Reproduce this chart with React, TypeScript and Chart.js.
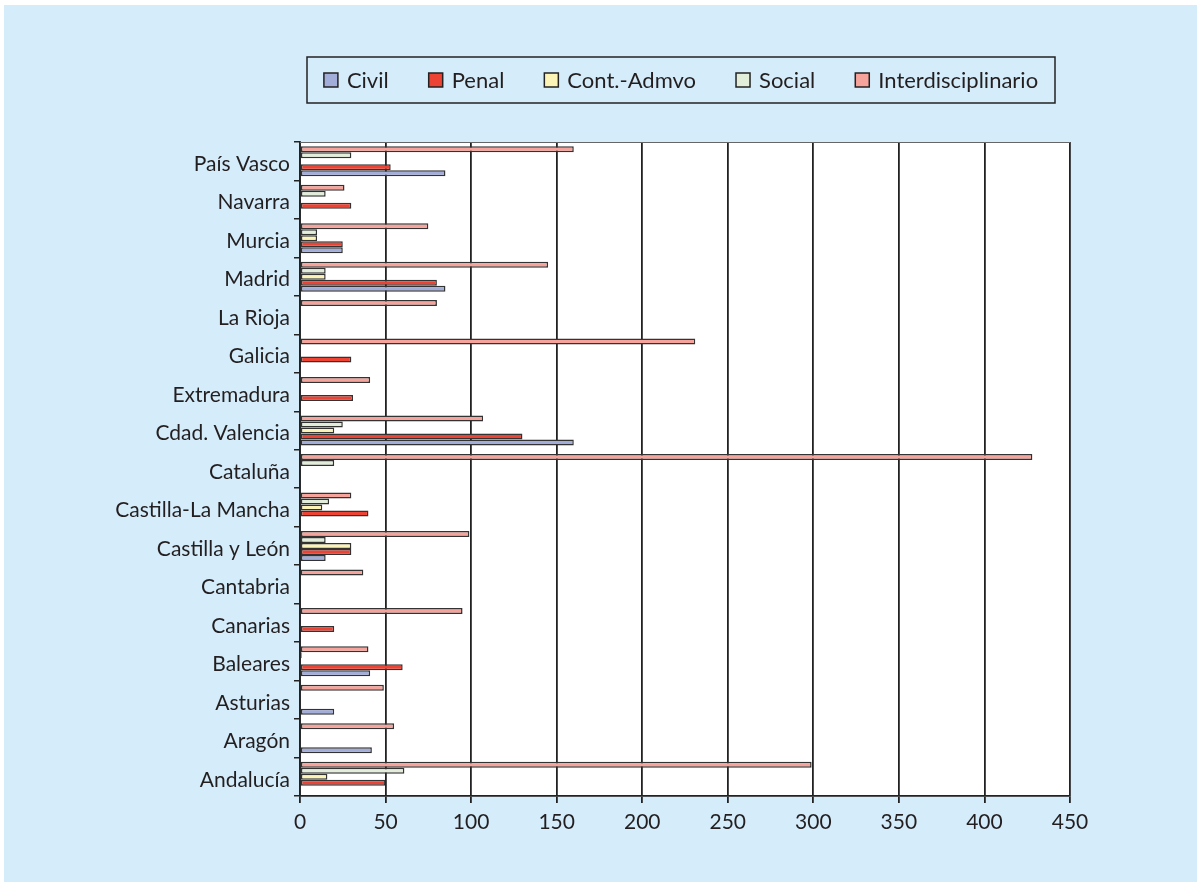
import React, { useEffect, useRef } from "react";
import { Chart, registerables } from "chart.js";

Chart.register(...registerables);

// Categories, top to bottom as drawn
const regions = [
  "País Vasco",
  "Navarra",
  "Murcia",
  "Madrid",
  "La Rioja",
  "Galicia",
  "Extremadura",
  "Cdad. Valencia",
  "Cataluña",
  "Castilla-La Mancha",
  "Castilla y León",
  "Cantabria",
  "Canarias",
  "Baleares",
  "Asturias",
  "Aragón",
  "Andalucía",
];

const civil = [85, null, 25, 85, null, null, null, 160, null, null, 15, null, null, 41, 20, 42, null];
const penal = [53, 30, 25, 80, null, 30, 31, 130, null, 40, 30, null, 20, 60, null, null, 50];
const contAdmvo = [null, null, 10, 15, null, null, null, 20, null, 13, 30, null, null, null, null, null, 16];
const social = [30, 15, 10, 15, null, null, null, 25, 20, 17, 15, null, null, 1, null, null, 61];
const interdisciplinario = [160, 26, 75, 145, 80, 231, 41, 107, 428, 30, 99, 37, 95, 40, 49, 55, 299];

const seriesNames = ["Civil", "Penal", "Cont.-Admvo", "Social", "Interdisciplinario"];
const seriesColors = ["#A3ADDA", "#EC4334", "#FCF4B6", "#E2EDDA", "#F5A39B"];
const xTicks = [0, 50, 100, 150, 200, 250, 300, 350, 400, 450];

const FONT = "Lato, 'Open Sans', sans-serif";
const BG = "#D5ECFA";
const DARK = "#222222";
const TEXT = "#231F20";

const bgPlugin = {
  id: "bgPlugin",
  beforeDraw(chart: any) {
    const { ctx, width, height, chartArea } = chart;
    ctx.save();
    ctx.fillStyle = "#ffffff";
    ctx.fillRect(0, 0, width, height);
    ctx.fillStyle = BG;
    ctx.fillRect(4, 5, width - 4, height - 5);
    ctx.fillStyle = "#ffffff";
    ctx.fillRect(chartArea.left, chartArea.top, chartArea.right - chartArea.left, chartArea.bottom - chartArea.top);
    ctx.restore();
  },
  afterDraw(chart: any) {
    const { ctx, chartArea } = chart;
    ctx.save();
    // top border of plot
    ctx.strokeStyle = "#666666";
    ctx.lineWidth = 1;
    ctx.beginPath();
    ctx.moveTo(chartArea.left, chartArea.top + 0.5);
    ctx.lineTo(chartArea.right, chartArea.top + 0.5);
    ctx.stroke();

    // legend
    const boxL = 307, boxR = 1055, boxT = 57, boxB = 103;
    ctx.strokeStyle = DARK;
    ctx.lineWidth = 1.5;
    ctx.strokeRect(boxL, boxT, boxR - boxL, boxB - boxT);
    ctx.font = `22px ${FONT}`;
    const sw = 14, gapText = 9, gapItem = 40;
    const widths = seriesNames.map((n) => sw + gapText + ctx.measureText(n).width);
    const total = widths.reduce((a, b) => a + b, 0) + gapItem * (seriesNames.length - 1);
    let x = (boxL + boxR) / 2 - total / 2;
    const cy = (boxT + boxB) / 2;
    ctx.textBaseline = "middle";
    ctx.textAlign = "left";
    seriesNames.forEach((n, i) => {
      ctx.fillStyle = seriesColors[i];
      ctx.fillRect(x, cy - sw / 2, sw, sw);
      ctx.strokeStyle = DARK;
      ctx.lineWidth = 1.5;
      ctx.strokeRect(x, cy - sw / 2, sw, sw);
      ctx.fillStyle = TEXT;
      ctx.fillText(n, x + sw + gapText, cy + 1);
      x += widths[i] + gapItem;
    });
    ctx.restore();
  },
};

export default function App() {
  const ref = useRef<HTMLCanvasElement | null>(null);

  useEffect(() => {
    document.body.style.margin = "0";
    const canvas = ref.current;
    if (!canvas) return;
    const mk = (idx: number, data: (number | null)[]) => ({
      label: seriesNames[idx],
      data,
      backgroundColor: seriesColors[idx],
      borderColor: "#333333",
      borderWidth: 1.5,
      borderSkipped: false,
      barPercentage: 1,
      categoryPercentage: 0.78,
    });
    const chart = new Chart(canvas, {
      type: "bar",
      data: {
        labels: regions,
        datasets: [
          mk(4, interdisciplinario),
          mk(3, social),
          mk(2, contAdmvo),
          mk(1, penal),
          mk(0, civil),
        ],
      },
      options: {
        indexAxis: "y",
        animation: false,
        responsive: false,
        devicePixelRatio: 1,
        layout: { padding: { top: 142, right: 127, left: 10, bottom: 0 } },
        plugins: {
          legend: { display: false },
          tooltip: { enabled: false },
        },
        scales: {
          x: {
            type: "linear",
            min: 0,
            max: 450,
            afterBuildTicks(scale: any) {
              scale.ticks = xTicks.map((v) => ({ value: v }));
            },
            afterFit(scale: any) {
              scale.height = 86;
            },
            grid: {
              color: DARK,
              lineWidth: 1.8,
              tickLength: 7,
              drawTicks: true,
            },
            border: { display: true, color: DARK, width: 1.8 },
            ticks: {
              color: TEXT,
              font: { family: FONT, size: 21 },
              padding: 7,
              maxRotation: 0,
            },
          },
          y: {
            type: "category",
            afterFit(scale: any) {
              scale.width = 290;
            },
            grid: {
              offset: true,
              drawOnChartArea: false,
              drawTicks: true,
              tickLength: 6,
              color: DARK,
              lineWidth: 1.5,
            },
            border: { display: true, color: DARK, width: 1.8 },
            ticks: {
              color: TEXT,
              font: { family: FONT, size: 21 },
              padding: 4,
              labelOffset: 3,
              autoSkip: false,
            },
          },
        },
      },
      plugins: [bgPlugin],
    } as any);
    return () => chart.destroy();
  }, []);

  return (
    <div style={{ width: 1197, height: 882 }}>
      <canvas ref={ref} width={1197} height={882} style={{ display: "block" }} />
    </div>
  );
}
